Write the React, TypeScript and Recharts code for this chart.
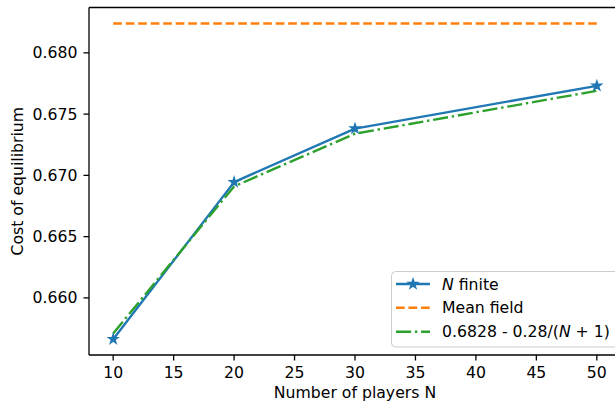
import React from 'react';
import { LineChart, Line, XAxis, YAxis, ReferenceLine, Legend } from 'recharts';

const playersN = [10, 20, 30, 50];
const finiteCost = [0.65663, 0.66945, 0.67382, 0.67731];
const meanFieldCost = [0.68239, 0.68239, 0.68239, 0.68239];
const fitCost = [0.6571, 0.6691, 0.6734, 0.6769];
const xTicks = [10, 15, 20, 25, 30, 35, 40, 45, 50];
const yTicks = [0.66, 0.665, 0.67, 0.675, 0.68];
const xDomain = [8, 52];
const yDomain = [0.65534, 0.6837];

const data = playersN.map((n, i) => ({
  N: n,
  finite: finiteCost[i],
  meanField: meanFieldCost[i],
  fit: fitCost[i],
}));

const FONT = '"DejaVu Sans", sans-serif';
const FS = 15.7;
const BLUE = '#1f77b4';
const ORANGE = '#ff7f0e';
const GREEN = '#2ca02c';
const LW = 2.36;

function starPath(cx: number, cy: number, R: number, r: number) {
  const pts: string[] = [];
  for (let i = 0; i < 10; i++) {
    const rad = i % 2 === 0 ? R : r;
    const a = -Math.PI / 2 + (i * Math.PI) / 5;
    pts.push(`${(cx + rad * Math.cos(a)).toFixed(2)},${(cy + rad * Math.sin(a)).toFixed(2)}`);
  }
  return 'M' + pts.join('L') + 'Z';
}

const StarDot = (props: any) => {
  const { cx, cy, index } = props;
  if (cx == null || cy == null) return <g key={`s${index}`} />;
  return (
    <path
      key={`s${index}`}
      d={starPath(cx, cy, 4.7, 1.8)}
      fill={BLUE}
      stroke={BLUE}
      strokeWidth={1.5}
      strokeLinejoin="miter"
    />
  );
};

const LegendBox = () => {
  const rows = [13, 36.7, 60.7];
  return (
    <svg width={230} height={77} style={{ display: 'block', overflow: 'visible' }}>
      <rect x={0.5} y={0.5} width={240} height={75.5} rx={4} ry={4} fill="rgba(255,255,255,0.8)" stroke="#cccccc" strokeWidth={1} />
      <line x1={5} x2={39} y1={rows[0]} y2={rows[0]} stroke={BLUE} strokeWidth={LW} />
      <path d={starPath(22, rows[0], 4.7, 1.8)} fill={BLUE} stroke={BLUE} strokeWidth={1.5} />
      <line x1={5} x2={39} y1={rows[1]} y2={rows[1]} stroke={ORANGE} strokeWidth={LW} strokeDasharray="8.7 3.8" />
      <line x1={5} x2={39} y1={rows[2]} y2={rows[2]} stroke={GREEN} strokeWidth={LW} strokeDasharray="15.1 3.8 2.4 3.8" />
      <text x={51} y={rows[0] + 5.7} fontSize={FS} fontFamily={FONT} fill="#000">
        <tspan fontStyle="italic">N</tspan> finite
      </text>
      <text x={51} y={rows[1] + 5.7} fontSize={FS} fontFamily={FONT} fill="#000">
        Mean field
      </text>
      <text x={51} y={rows[2] + 5.7} fontSize={FS} fontFamily={FONT} fill="#000">
        0.6828 - 0.28/(<tspan fontStyle="italic">N</tspan> + 1)
      </text>
    </svg>
  );
};

export default function App() {
  return (
    <div style={{ position: 'absolute', left: 0, top: 0, width: 615, height: 404, overflow: 'hidden', background: '#fff' }}>
      <LineChart width={630} height={404} data={data} margin={{ top: 7.5, right: 9, bottom: 0, left: 0 }}>
        <XAxis
          dataKey="N"
          type="number"
          domain={xDomain}
          ticks={xTicks}
          interval={0}
          height={49}
          tickSize={5.5}
          tickMargin={6}
          axisLine={{ stroke: '#000', strokeWidth: 1.3 }}
          tickLine={{ stroke: '#000', strokeWidth: 1.3 }}
          tick={{ fill: '#000', fontSize: FS, fontFamily: FONT }}
          label={{
            content: (p: any) => {
              const vb = p.viewBox || { x: 89, width: 532 };
              return (
                <text x={vb.x + vb.width / 2} y={398} textAnchor="middle" fontSize={FS} fontFamily={FONT} fill="#000">
                  Number of players N
                </text>
              );
            },
          }}
        />
        <YAxis
          type="number"
          domain={yDomain}
          allowDataOverflow
          ticks={yTicks}
          interval={0}
          width={89}
          tickSize={5.5}
          tickMargin={6}
          tickFormatter={(v: number) => v.toFixed(3)}
          axisLine={{ stroke: '#000', strokeWidth: 1.3 }}
          tickLine={{ stroke: '#000', strokeWidth: 1.3 }}
          tick={{ fill: '#000', fontSize: FS, fontFamily: FONT }}
          label={{
            content: (p: any) => {
              const vb = p.viewBox || { y: 7.5, height: 347.5 };
              const cy = vb.y + vb.height / 2;
              return (
                <text x={23} y={cy} transform={`rotate(-90, 23, ${cy})`} textAnchor="middle" fontSize={FS} fontFamily={FONT} fill="#000">
                  Cost of equilibrium
                </text>
              );
            },
          }}
        />
        <ReferenceLine y={yDomain[1]} stroke="#000" strokeWidth={1.3} />
        <ReferenceLine x={xDomain[1]} stroke="#000" strokeWidth={1.3} />
        <Line dataKey="finite" stroke={BLUE} strokeWidth={LW} dot={StarDot} activeDot={false} isAnimationActive={false} strokeLinejoin="round" />
        <Line dataKey="meanField" stroke={ORANGE} strokeWidth={LW} strokeDasharray="8.7 3.8" dot={false} activeDot={false} isAnimationActive={false} />
        <Line dataKey="fit" stroke={GREEN} strokeWidth={LW} strokeDasharray="15.1 3.8 2.4 3.8" dot={false} activeDot={false} isAnimationActive={false} />
        <Legend
          layout="horizontal"
          verticalAlign="middle"
          align="center"
          content={() => <LegendBox />}
          wrapperStyle={{ left: 391, top: 271, width: 230, height: 77, margin: 0, padding: 0 }}
        />
      </LineChart>
    </div>
  );
}
